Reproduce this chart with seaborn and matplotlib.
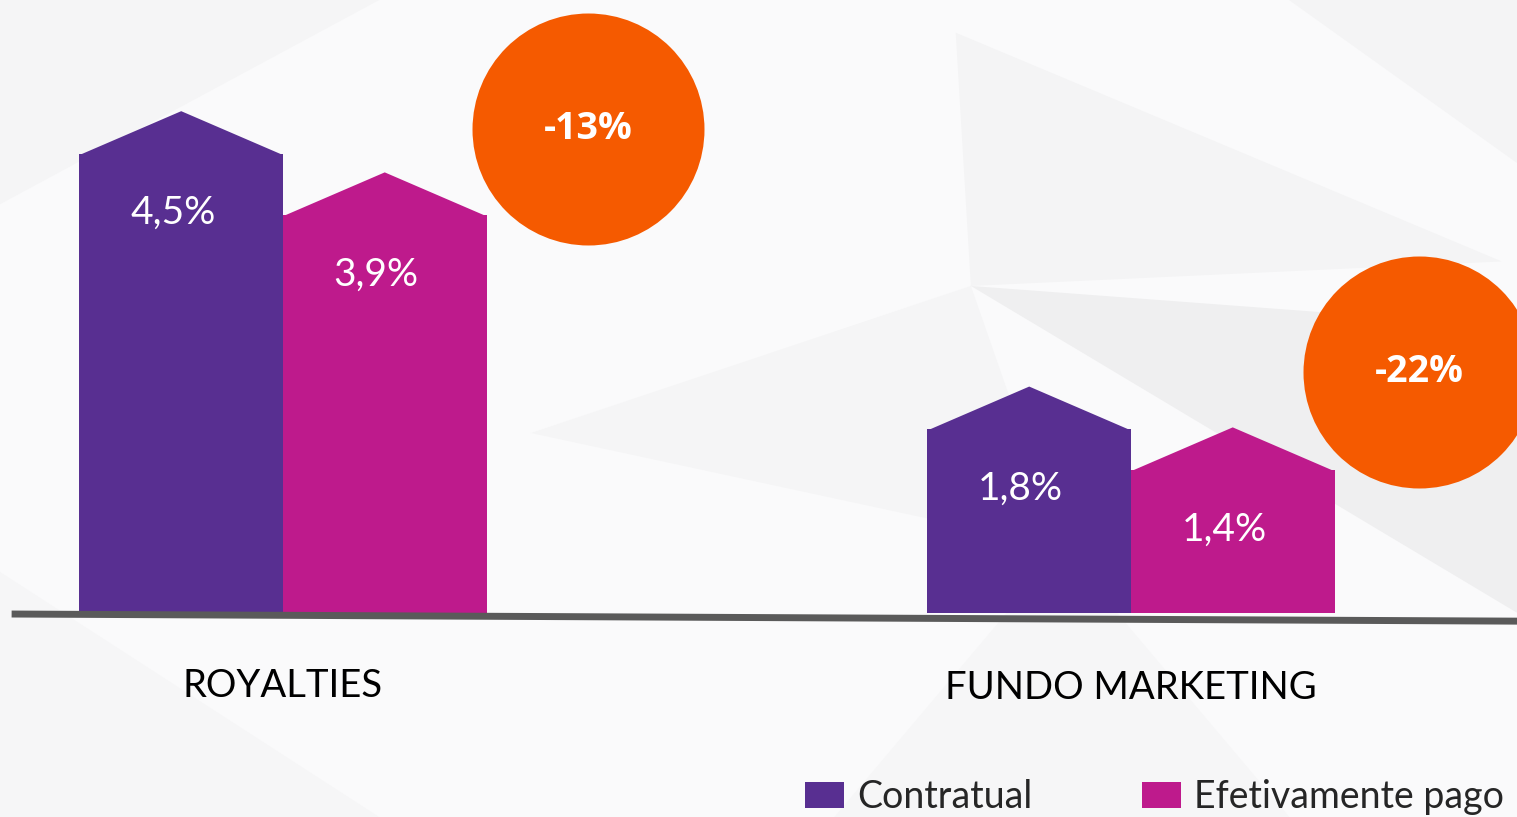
import matplotlib
matplotlib.use("Agg")
import matplotlib.pyplot as plt
from matplotlib.patches import Polygon
import seaborn as sns
import pandas as pd

# --- dados do gráfico ---
categorias = ["ROYALTIES", "FUNDO MARKETING"]
series = ["Contratual", "Efetivamente pago"]
contratual = [4.5, 1.8]
efetivamente_pago = [3.9, 1.4]

cores = ["#582F91", "#BE1A8C"]
laranja = "#F55A00"

df = pd.DataFrame({
    "categoria": categorias * 2,
    "serie": [series[0]] * 2 + [series[1]] * 2,
    "valor": contratual + efetivamente_pago,
})

sns.set_theme(style="white")
plt.rcParams["font.family"] = ["Lato", "DejaVu Sans"]

fig = plt.figure(figsize=(15.17, 8.17), dpi=100, facecolor="#fafafb")
ax = fig.add_axes([0, 0, 1, 1])

# fundo com alguns polígonos bem claros (estilo low-poly)
fundo = [
    ([(0.0, 1.0), (0.25, 1.0), (0.0, 0.75)], "#f5f5f6"),
    ([(0.63, 0.96), (0.99, 0.68), (0.64, 0.65)], "#f4f4f5"),
    ([(0.35, 0.47), (0.64, 0.65), (0.70, 0.33)], "#f5f5f6"),
    ([(0.64, 0.65), (1.0, 0.60), (1.0, 0.25)], "#efeff0"),
    ([(0.0, 0.30), (0.25, 0.0), (0.0, 0.0)], "#f6f6f7"),
    ([(0.55, 0.0), (0.70, 0.33), (0.85, 0.0)], "#f6f6f7"),
    ([(0.85, 1.0), (1.0, 1.0), (1.0, 0.8)], "#f4f4f5"),
]
for pts, c in fundo:
    fig.add_artist(Polygon(pts, closed=True, facecolor=c, edgecolor="none",
                           transform=fig.transFigure, zorder=-1))

sns.barplot(data=df, x="categoria", y="valor", hue="serie", palette=cores,
            width=0.48, saturation=1, linewidth=0, ax=ax)

ax.set_xlim(-0.3337, 1.4552)
ax.set_ylim(-2.0, 6.01)
ax.axis("off")

# telhado triangular + rótulos em cada barra
for cont in ax.containers:
    for bar in cont:
        x, w, h = bar.get_x(), bar.get_width(), bar.get_height()
        telhado = Polygon([(x, h - 0.01), (x + w / 2, h + 0.42), (x + w, h - 0.01)],
                          closed=True, facecolor=bar.get_facecolor(),
                          edgecolor="none", zorder=bar.get_zorder())
        ax.add_patch(telhado)
        rotulo = f"{h:.1f}".replace(".", ",") + "%"
        ax.text(x + w / 2 - 0.01, h - 0.58, rotulo, color="white", fontsize=28,
                ha="center", va="center")

# linha de base levemente inclinada
ax.plot([-0.32, 1.46], [-0.01, -0.08], color="#5a5a5a", lw=5,
        solid_capstyle="butt", zorder=5)

# nomes das categorias
for i, cat in enumerate(categorias):
    ax.text(i, -0.72 - 0.02 * i, cat, fontsize=27.5, color="black",
            ha="center", va="center")

# círculos com a variação
for i, (c, e) in enumerate(zip(contratual, efetivamente_pago)):
    var = (e - c) / c * 100
    cx = i + 0.36 - 0.02 * i
    cy = [4.75, 2.36][i]
    ax.scatter([cx], [cy], s=27900, color=laranja, linewidths=0, zorder=6)
    ax.text(cx, cy, f"{var:.0f}%", color="white", fontsize=27,
            fontweight="bold", family=["Open Sans", "DejaVu Sans"],
            ha="center", va="center", zorder=7)

sns.move_legend(ax, "center left", bbox_to_anchor=(0.5307, 0.0245), ncol=2,
                frameon=False, title=None, fontsize=27, handlelength=1.05,
                handleheight=0.7, handletextpad=0.35, columnspacing=2.9,
                borderpad=0, borderaxespad=0)

fig.savefig("out.png", dpi=100, facecolor=fig.get_facecolor())
